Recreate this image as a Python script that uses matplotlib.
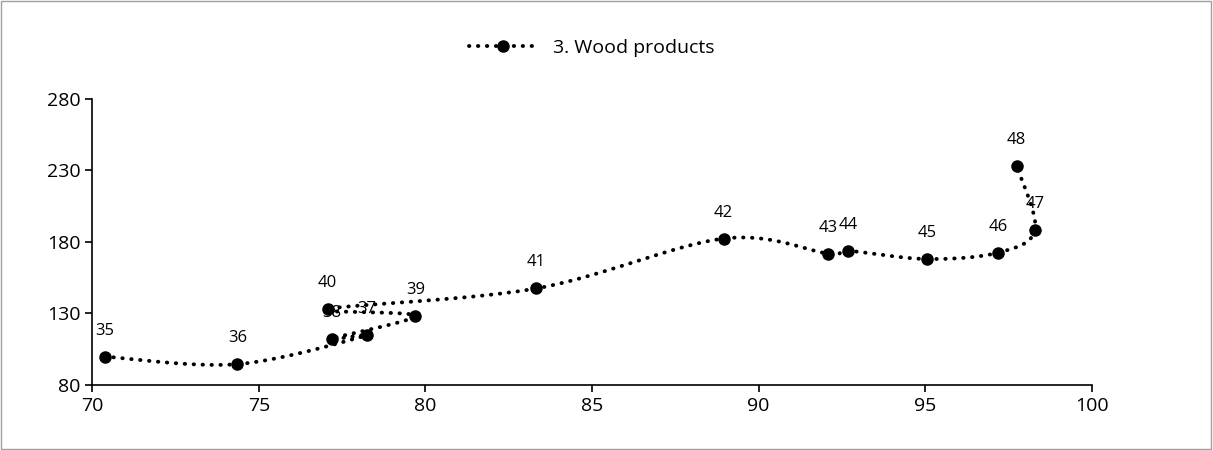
import matplotlib
matplotlib.use("Agg")
import matplotlib.pyplot as plt
import numpy as np

labels = ["35", "36", "37", "38", "39", "40", "41", "42", "43", "44", "45", "46", "47", "48"]
x_vals = [70.37, 74.36, 78.25, 77.2, 79.7, 77.07, 83.33, 88.95, 92.1, 92.7, 95.05, 97.2, 98.3, 97.75]
y_vals = [99.7, 94.4, 114.6, 112.3, 128.3, 133.0, 147.4, 182.3, 171.8, 173.7, 168.0, 172.5, 188.6, 233.0]


def smooth(xs, ys, n=30):
    # Catmull-Rom style smoothing, like Excel's smoothed lines
    p = np.column_stack([xs, ys])
    p = np.vstack([p[0], p, p[-1]])
    out = []
    for i in range(1, len(p) - 2):
        p0, p1, p2, p3 = p[i - 1], p[i], p[i + 1], p[i + 2]
        t = np.linspace(0, 1, n)[:, None]
        seg = 0.5 * ((2 * p1) + (-p0 + p2) * t + (2 * p0 - 5 * p1 + 4 * p2 - p3) * t ** 2
                     + (-p0 + 3 * p1 - 3 * p2 + p3) * t ** 3)
        out.append(seg)
    out = np.vstack(out)
    return out[:, 0], out[:, 1]


plt.rcParams["font.family"] = ["Open Sans", "DejaVu Sans"]

fig = plt.figure(figsize=(12.13, 4.5), dpi=100)
ax = fig.add_axes([0.076, 0.145, 0.824, 0.635])

dots = (0, (0.1, 2.2))
sx, sy = smooth(x_vals, y_vals)
ax.plot(sx, sy, color="black", linewidth=2.8, linestyle=dots, dash_capstyle="round")
ax.plot(x_vals, y_vals, "o", color="black", markersize=8)
ax.plot([], [], color="black", linewidth=2.8, linestyle=dots, dash_capstyle="round",
        marker="o", markersize=8, label="3. Wood products")

for lab, x, y in zip(labels, x_vals, y_vals):
    ax.annotate(lab, (x, y), xytext=(0, 13), textcoords="offset points", ha="center", va="bottom", fontsize=12)

ax.set_xlim(70, 100)
ax.set_ylim(80, 280)
ax.set_xticks([70, 75, 80, 85, 90, 95, 100])
ax.set_yticks([80, 130, 180, 230, 280])
ax.tick_params(labelsize=14, direction="out", length=5, width=1.2)
for s in ["top", "right"]:
    ax.spines[s].set_visible(False)
ax.spines["left"].set_linewidth(1.2)
ax.spines["bottom"].set_linewidth(1.2)

ax.legend(loc="center", bbox_to_anchor=(0.5, 1.18), frameon=False, fontsize=14, handlelength=3.5)

fig.patches.append(plt.Rectangle((0.001, 0.002), 0.997, 0.996, transform=fig.transFigure,
                                 fill=False, edgecolor="#a0a0a0", linewidth=1))
fig.savefig("out.png", dpi=100)
